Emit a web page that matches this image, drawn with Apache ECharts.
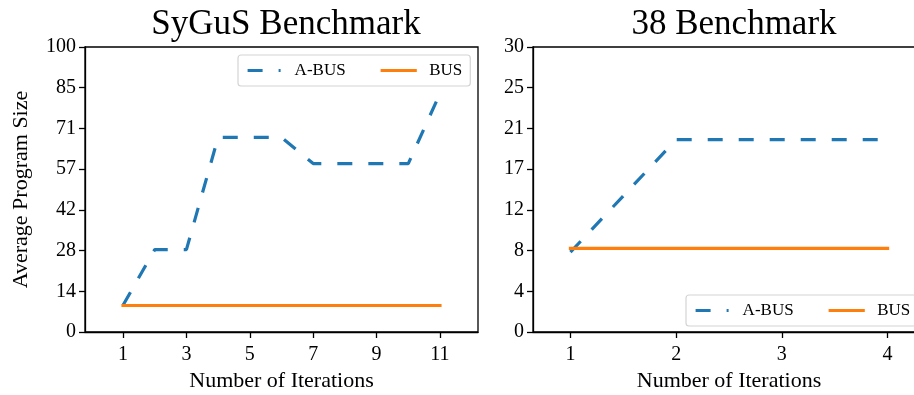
<!DOCTYPE html>
<html>
<head>
<meta charset="utf-8">
<script src="https://cdn.jsdelivr.net/npm/echarts@6/dist/echarts.min.js"></script>
<style>
  html, body { margin: 0; padding: 0; background: #fff; }
  #chart { width: 914px; height: 395px; }
</style>
</head>
<body>
<div id="chart"></div>
<script>
// SyGuS benchmark: average program size per iteration
const sygusIterations = [1, 2, 3, 4, 5, 6, 7, 8, 9, 10, 11];
const sygusABus = [9.4, 28.9, 28.9, 68.3, 68.3, 68.3, 59.1, 59.1, 59.1, 59.1, 83.7];
const sygusBus = [9.3, 9.3, 9.3, 9.3, 9.3, 9.3, 9.3, 9.3, 9.3, 9.3, 9.3];
const sygusXTicks = [1, 3, 5, 7, 9, 11];

// 38 benchmark: average program size per iteration
const b38Iterations = [1, 2, 3, 4];
const b38ABus = [8.4, 20.25, 20.25, 20.25];
const b38Bus = [8.8, 8.8, 8.8, 8.8];
const b38XTicks = [1, 2, 3, 4];

const FONT = '"Liberation Serif", "DejaVu Serif", serif';
const BLUE = '#1f77b4';
const ORANGE = '#ff7f0e';

const chart = echarts.init(document.getElementById('chart'), null, { renderer: 'canvas' });

function pairs(xs, ys) { return xs.map((x, i) => [x, ys[i]]); }

const axisLineStyle = { color: '#000', width: 1.3 };

function xAxisFor(gridIndex, min, max, ticks) {
  return {
    type: 'value', gridIndex, min, max,
    name: 'Number of Iterations', nameLocation: 'middle', nameGap: 38,
    nameTextStyle: { fontFamily: FONT, fontSize: 22, color: '#000' },
    axisLine: { show: true, onZero: false, lineStyle: axisLineStyle },
    axisTick: { show: true, customValues: ticks, length: 6, lineStyle: axisLineStyle },
    axisLabel: { customValues: ticks, fontFamily: FONT, fontSize: 20, color: '#000', margin: 13 },
    splitLine: { show: false }
  };
}

function yAxisFor(gridIndex, max, name) {
  return {
    type: 'value', gridIndex, min: 0, max, interval: max / 7,
    name, nameLocation: 'middle', nameGap: 53,
    nameTextStyle: { fontFamily: FONT, fontSize: 22, color: '#000' },
    axisLine: { show: true, onZero: false, lineStyle: axisLineStyle },
    axisTick: { show: true, length: 6, lineStyle: axisLineStyle },
    axisLabel: {
      fontFamily: FONT, fontSize: 20, color: '#000', margin: 9,
      formatter: v => String(Math.floor(v + 1e-6))
    },
    splitLine: { show: false }
  };
}

const dashed = { color: BLUE, width: 3.2, type: [15, 16], cap: 'butt' };
const solid = { color: ORANGE, width: 3.2, type: 'solid', cap: 'square' };

function legendAt(left, top) {
  return {
    left, top, orient: 'horizontal', width: 320,
    data: ['A-BUS', 'BUS'],
    itemWidth: 33, itemHeight: 14, itemGap: 35,
    padding: [7, 8, 7, 8],
    borderColor: '#d4d4d4', borderWidth: 1.2, borderRadius: 3,
    backgroundColor: 'rgba(255,255,255,0.8)',
    selectedMode: false,
    itemStyle: { opacity: 0 },
    lineStyle: { width: 3.2 },
    textStyle: { fontFamily: FONT, fontSize: 17, color: '#000', padding: [0, 0, 0, 9] }
  };
}

const gridBase = {
  top: 47, height: 285, show: true, borderColor: '#000', borderWidth: 1.3,
  containLabel: false, outerBoundsMode: 'none'
};

chart.setOption({
  animation: false,
  backgroundColor: '#fff',
  title: [
    { text: 'SyGuS Benchmark', left: 281, top: 2, textAlign: 'center',
      textStyle: { fontFamily: FONT, fontSize: 35, fontWeight: 'normal', color: '#000' } },
    { text: '38 Benchmark', left: 729, top: 2, textAlign: 'center',
      textStyle: { fontFamily: FONT, fontSize: 35, fontWeight: 'normal', color: '#000' } }
  ],
  grid: [
    Object.assign({ left: 85, width: 393 }, gridBase),
    Object.assign({ left: 533, width: 392 }, gridBase)
  ],
  xAxis: [
    xAxisFor(0, -0.2, 12.2, sygusXTicks),
    xAxisFor(1, 0.646, 4.354, b38XTicks)
  ],
  yAxis: [
    yAxisFor(0, 100, 'Average Program Size'),
    yAxisFor(1, 30, '')
  ],
  legend: [legendAt(238, 55), legendAt(686, 295)],
  series: [
    { name: 'A-BUS', type: 'line', xAxisIndex: 0, yAxisIndex: 0, symbol: 'none',
      data: pairs(sygusIterations, sygusABus), lineStyle: dashed, itemStyle: { color: BLUE } },
    { name: 'BUS', type: 'line', xAxisIndex: 0, yAxisIndex: 0, symbol: 'none',
      data: pairs(sygusIterations, sygusBus), lineStyle: solid, itemStyle: { color: ORANGE } },
    { name: 'A-BUS', type: 'line', xAxisIndex: 1, yAxisIndex: 1, symbol: 'none',
      data: pairs(b38Iterations, b38ABus), lineStyle: dashed, itemStyle: { color: BLUE } },
    { name: 'BUS', type: 'line', xAxisIndex: 1, yAxisIndex: 1, symbol: 'none',
      data: pairs(b38Iterations, b38Bus), lineStyle: solid, itemStyle: { color: ORANGE } }
  ]
});
</script>
</body>
</html>
